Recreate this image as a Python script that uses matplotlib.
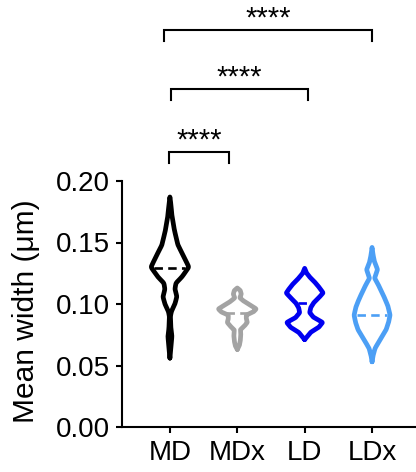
import numpy as np
import matplotlib
matplotlib.use("Agg")
import matplotlib.pyplot as plt

plt.rcParams['font.family'] = ['Liberation Sans', 'DejaVu Sans']

# ---- data ----
categories = ['MD', 'MDx', 'LD', 'LDx']
colors = ['#000000', '#A3A3A3', '#0000F0', '#4C9FF5']

# violin outline profiles: value levels and relative density (half-width)
md_y = [0.187, 0.181, 0.172, 0.160, 0.148, 0.140, 0.130, 0.122, 0.117, 0.112, 0.106, 0.100, 0.094, 0.090, 0.080, 0.074, 0.066, 0.056]
md_d = [0.0, 1.0, 2.0, 4.5, 8.0, 13.0, 19.0, 12.0, 6.0, 5.0, 7.0, 5.0, 1.5, 0.5, 1.0, 2.0, 1.2, 0.0]

mdx_y = [0.113, 0.111, 0.108, 0.105, 0.102, 0.099, 0.096, 0.0935, 0.091, 0.088, 0.085, 0.082, 0.079, 0.075, 0.070, 0.066, 0.063]
mdx_d = [0.0, 3.0, 4.0, 2.5, 7.0, 13.0, 19.0, 16.0, 9.0, 9.0, 10.0, 7.0, 3.0, 3.5, 3.0, 2.0, 0.0]

ld_y = [0.129, 0.125, 0.121, 0.117, 0.113, 0.109, 0.105, 0.101, 0.097, 0.093, 0.089, 0.085, 0.081, 0.077, 0.073, 0.071]
ld_d = [0.0, 2.0, 6.0, 11.0, 15.0, 18.5, 14.0, 9.0, 6.0, 5.0, 9.0, 18.0, 14.0, 6.0, 2.0, 0.0]

ldx_y = [0.146, 0.140, 0.134, 0.128, 0.121, 0.116, 0.111, 0.104, 0.098, 0.091, 0.085, 0.079, 0.071, 0.064, 0.058, 0.053]
ldx_d = [0.0, 1.0, 2.5, 5.5, 2.5, 6.0, 9.0, 13.0, 16.0, 18.0, 16.5, 14.0, 8.0, 3.0, 1.0, 0.0]

medians = [0.129, 0.0927, 0.101, 0.091]

comparisons = [(0, 1), (0, 2), (0, 3)]
sig_labels = ['****', '****', '****']

yticks = [0.00, 0.05, 0.10, 0.15, 0.20]
ylabel = 'Mean width (\u03bcm)'

# ---- styles / layout ----
W, H = 416, 472
fig = plt.figure(figsize=(W / 100, H / 100), dpi=100)
ax = fig.add_axes([122 / W, 45 / H, 294 / W, 246 / H])
ax.set_xlim(-0.711, 3.652)
ax.set_ylim(0, 0.2)

px_x = 1 / 67.4          # data units per pixel in x
px_y = 0.2 / 246         # data units per pixel in y
violin_lw = 3.4

profiles = [(md_y, md_d), (mdx_y, mdx_d), (ld_y, ld_d), (ldx_y, ldx_d)]
for i, ((yv, dv), c) in enumerate(zip(profiles, colors)):
    yv = np.asarray(yv)
    dv = np.asarray(dv)
    # lightly smoothed outline for rendering
    yy = np.linspace(yv.min(), yv.max(), 400)
    hh = np.interp(yy, yv[::-1], dv[::-1])
    k = np.exp(-0.5 * (np.arange(-8, 9) / 2.5) ** 2)
    k /= k.sum()
    hs = np.convolve(np.pad(hh, 8, mode='constant'), k, mode='same')[8:-8]
    hs[0] = 0
    hs[-1] = 0
    hw = hs * px_x
    xs = np.concatenate([i + hw, (i - hw)[::-1], [i + hw[0]]])
    ys = np.concatenate([yy, yy[::-1], [yy[0]]])
    ax.plot(xs, ys, color=c, lw=violin_lw, solid_joinstyle='round',
            solid_capstyle='round', zorder=3)
    mh = np.interp(medians[i], yy, hs) * px_x - 2.5 * px_x
    ax.plot([i - mh, i + mh], [medians[i], medians[i]], color=c, lw=1.9,
            dashes=(3.2, 2.0), zorder=3)

# spines
for s in ['top', 'right']:
    ax.spines[s].set_visible(False)
for s in ['left', 'bottom']:
    ax.spines[s].set_linewidth(1.5)

ax.set_xticks(range(len(categories)))
ax.set_xticklabels(categories)
ax.set_yticks(yticks)
ax.set_yticklabels([f'{v:.2f}' for v in yticks])
ax.tick_params(axis='both', width=1.5, length=4.5, labelsize=20, color='black')
ax.tick_params(axis='y', pad=4)
ax.tick_params(axis='x', pad=5)
ax.set_ylabel(ylabel, fontsize=21.5)
ax.yaxis.set_label_coords(-0.28, 0.47)

# significance brackets
bracket_y = [0.2236, 0.2748, 0.3228]
bracket_off = [(-0.015, -0.126), (0.015, 0.044), (-0.09, -0.007)]
drop = 11 * px_y
for (a, b), lab, by, (oa, ob) in zip(comparisons, sig_labels, bracket_y, bracket_off):
    x0, x1 = a + oa, b + ob
    ax.plot([x0, x0, x1, x1], [by - drop, by, by, by - drop], color='black',
            lw=1.5, clip_on=False, solid_joinstyle='miter')
    ax.text((x0 + x1) / 2, by + 3 * px_y, lab, ha='center', va='baseline',
            fontsize=21, clip_on=False)

fig.savefig('out.png', dpi=100)
